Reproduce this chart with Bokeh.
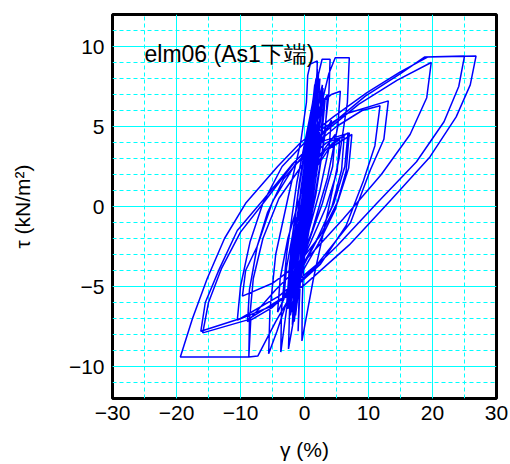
from bokeh.plotting import figure
from bokeh.models import Range1d, SingleIntervalTicker, ColumnDataSource
from bokeh.embed import file_html
from bokeh.resources import INLINE
from bokeh.core.properties import value

title_text = "elm06 (As1下端)"
x_label = "γ (%)"
y_label = "τ (kN/m²)"
x_limits = [-30, 30]
y_limits = [-12, 12]

# dense small cycles around the origin
gamma_a = [0, 0.8, 1.5, 1.2, 0.2, -0.8, -1.2,
           -0.9, 0.2, 1.2, 1.9, 1.5, 0.3, -0.9, -1.8,
           -1.3, -0.2, 1.0, 2.4, 2.0, 0.8, -0.5, -1.4,
           -1.2, 0.0, 1.2, 2.0, 1.6, 0.5, -0.6, -2.2,
           -1.7, -0.6, 0.9, 1.6, 1.2, 0.2, -1.0, -2.6,
           -2.0, -0.8, 0.8, 2.2, 1.9, 0.9, -0.5, -1.6,
           -1.3, -0.4, 0.9, 2.8, 2.3, 1.0, -0.5, -1.0,
           -0.8, 0.1, 1.3, 3.2, 2.6, 1.2, -0.6, -2.8,
           -2.3, -1.0, 0.6, 1.8]
tau_a = [0, 3.5, 6.0, 3.0, -1.5, -4.5, -5.5,
         -2.5, 1.5, 5.0, 7.2, 4.0, -0.5, -4.2, -6.5,
         -3.5, 0.5, 4.5, 8.0, 5.0, 0.5, -3.8, -6.8,
         -4.0, 0.0, 4.2, 7.0, 4.5, 0.5, -3.5, -6.0,
         -3.0, 1.0, 5.0, 7.6, 5.2, 1.5, -2.5, -5.3,
         -2.2, 1.5, 5.5, 8.4, 6.0, 2.0, -2.8, -7.2,
         -4.5, 0.0, 4.8, 7.6, 5.0, 1.0, -3.2, -7.8,
         -5.0, -0.5, 3.8, 6.6, 4.0, 0.2, -4.0, -6.2,
         -3.5, 0.8, 4.6, 8.0]

# medium and large loops
gamma_b = [1.6, 0.5, -1.0, -2.4,
           -2.2, -1.2, 0.8, 3.8, 7.4,
           6.9, 5.2, 2.5, -1.0, -5.0, -9.7,
           -9.2, -7.4, -5.8, -3.3, 0.5, 5.0, 9.0, 11.8,
           11.0, 9.2, 6.5, 2.5, -3.0, -9.0, -15.9,
           -15.0, -13.0, -10.0, -6.0, -1.5, 3.5, 9.5, 15.0, 18.8, 25.0,
           24.1, 21.8, 17.5, 11.3, 5.0, -1.0, -5.0, -8.4, -8.7, -19.4,
           -17.5, -15.2, -12.5, -9.2, -4.2, -0.6, 4.5, 9.7, 14.9, 19.3, 26.8,
           25.9, 23.7, 19.6, 13.5, 7.0, 0.0, -5.0, -10.5,
           -10.0, -8.5, -6.5, -3.5, 1.0, 6.5, 13.1,
           12.4, 10.3, 7.2, 2.0, -4.0, -10.0, -16.2,
           -15.5, -13.3, -10.5, -6.4, -2.0, 3.0, 8.5, 14.5, 19.8,
           19.1, 16.5, 12.0, 6.0, 0.5, -4.5, -8.9,
           -8.6, -7.4, -5.0, -1.5, 3.0, 7.0,
           6.5, 4.8, 2.2, -0.5, -2.5, -4.5, -7.3, -8.7,
           -8.6, -8.0, -6.5, -4.0, 0.0, 3.5, 6.2,
           5.8, 4.3, 1.8, -0.8, -2.8, -4.3, -5.6]
tau_b = [5.5, 1.0, -3.0, -6.0,
         -4.0, -1.0, 1.8, 3.6, 4.5,
         2.4, 0.3, -1.8, -3.6, -4.8, -5.6,
         -4.0, -2.5, -0.4, 1.7, 3.5, 5.0, 6.0, 6.3,
         3.8, 1.6, -1.2, -3.6, -5.6, -7.1, -7.9,
         -6.0, -3.9, -1.6, 0.44, 2.8, 4.9, 6.9, 8.3, 9.35, 9.4,
         7.5, 5.3, 2.8, 0.2, -2.5, -4.8, -6.3, -7.1, -9.4, -9.4,
         -7.0, -4.5, -2.0, 0.2, 2.5, 4.0, 5.6, 7.1, 8.4, 9.35, 9.4,
         7.6, 5.6, 3.1, 0.4, -2.4, -4.9, -6.2, -7.1,
         -5.0, -2.2, 0.2, 2.5, 4.4, 5.8, 6.6,
         4.2, 2.3, -1.0, -3.6, -5.6, -7.0, -7.8,
         -6.0, -3.9, -1.5, 0.44, 2.6, 4.6, 6.4, 7.9, 9.0,
         6.8, 4.5, 2.0, -0.8, -3.2, -5.2, -7.2,
         -5.2, -2.5, 0.3, 2.6, 4.1, 4.6,
         2.2, -0.2, -2.3, -4.2, -5.8, -7.2, -9.35, -9.4,
         -7.1, -4.5, -2.0, 0.5, 2.8, 4.0, 4.4,
         2.3, 0.0, -2.2, -4.2, -6.0, -7.8, -9.2]

# tall narrow loops reaching the strength limit
gamma_c = [-5.4, -4.5, -2.6, -0.6, 0.3, 0.5, 0.9, 2.0,
           1.9, 1.2, -0.2, -1.8, -3.0, -3.7,
           -3.6, -2.8, -1.2, 0.8, 2.2, 2.75, 4.0,
           3.8, 2.8, 1.0, -0.8, -2.5,
           -2.3, -1.4, 0.3, 2.3, 3.8, 4.8, 7.0,
           6.7, 5.4, 3.4, 1.4, -0.4,
           -0.35, 0.0, 0.8, 1.6, 2.0,
           1.8, 0.9, -0.3, -1.2, -1.6]
tau_c = [-6.5, -3.0, 0.5, 4.0, 6.5, 8.2, 8.9, 9.1,
         7.5, 4.5, 0.5, -3.5, -7.0, -9.1,
         -6.5, -3.0, 1.5, 5.5, 8.3, 9.2, 9.2,
         7.0, 3.5, -0.8, -5.0, -8.9,
         -6.0, -2.5, 2.0, 5.8, 8.3, 9.3, 9.3,
         6.5, 3.0, -0.8, -4.5, -8.4,
         -6.0, -2.0, 2.5, 6.5, 8.6,
         6.0, 2.0, -2.5, -6.0, -7.0]

# later small and medium cycles
gamma_d = [-1.3, -0.3, 1.0, 2.6, 2.3, 1.0, -0.6, -2.0,
           -1.6, -0.3, 1.5, 3.6, 3.2, 1.8, -0.2, -1.5,
           -1.1, 0.0, 2.0, 4.5, 6.8, 6.3, 4.6, 2.0, -1.2, -3.2,
           -2.8, -1.6, 0.6, 3.2, 5.5, 5.1, 3.4, 0.9, -1.8, -4.2,
           -3.8, -2.6, -0.4, 2.4, 4.8, 4.4, 2.8, 0.4, -1.2, -2.2,
           -1.8, -0.6, 0.9, 2.2, 1.9, 0.8, -0.4, -0.9, -0.5, 0.2]
tau_d = [-4.0, 0.0, 4.2, 7.2, 4.5, 0.0, -4.0, -5.6,
         -2.5, 1.8, 5.6, 7.0, 4.5, 0.8, -3.0, -4.8,
         -1.5, 1.0, 3.0, 4.0, 4.6, 2.5, 0.2, -2.0, -4.3, -5.6,
         -3.8, -1.2, 1.6, 3.5, 4.2, 2.2, 0.0, -2.3, -4.6, -6.6,
         -4.5, -2.0, 1.0, 3.2, 4.5, 2.5, 0.2, -2.5, -4.5, -6.8,
         -4.0, 0.0, 4.0, 6.4, 4.0, 0.2, -3.2, -4.5, -2.0, 0.2]

# final dense cycles
gamma_e = [0.9, 1.8, 2.9, 2.4, 1.1, -0.3, -1.9,
           -1.5, -0.5, 0.7, 1.4, 1.0, 0.0, -1.1, -2.4,
           -2.0, -1.1, 0.3, 1.7, 3.0, 2.6, 1.4, 0.0, -1.3, -1.9,
           -1.6, -0.7, 0.5, 1.3]
tau_e = [3.0, 5.8, 7.4, 5.0, 1.2, -2.5, -6.6,
         -3.8, -0.4, 3.6, 6.2, 3.8, 0.2, -3.2, -5.8,
         -3.0, -0.5, 2.8, 5.2, 6.8, 4.6, 1.4, -1.8, -4.6, -7.4,
         -4.8, -1.6, 2.2, 5.0]

gamma_f = [2.8, 4.2, 5.6, 5.2, 3.6, 1.2, -1.0, -2.6,
           -2.2, -1.0, 1.0, 3.0, 4.2, 3.8, 2.4, 0.2, -1.4, -2.0]
tau_f = [6.5, 7.0, 7.2, 5.0, 1.8, -1.5, -4.0, -6.4,
         -4.2, -1.2, 2.2, 4.4, 5.4, 3.6, 1.0, -2.2, -4.6, -5.4]

gamma = gamma_a + gamma_b + gamma_c + gamma_d + gamma_e + gamma_f
tau = tau_a + tau_b + tau_c + tau_d + tau_e + tau_f
n = min(len(gamma), len(tau))
src = ColumnDataSource(data=dict(x=gamma[:n], y=tau[:n]))

FONT = "Liberation Sans"

p = figure(width=510, height=464, output_backend="svg", toolbar_location=None,
           x_range=Range1d(*x_limits), y_range=Range1d(*y_limits),
           min_border_left=112, min_border_right=14, min_border_top=14,
           min_border_bottom=66)
p.background_fill_color = "white"
p.border_fill_color = "white"
p.outline_line_color = "black"
p.outline_line_width = 3
p.outline_line_alpha = 1.0

xt = SingleIntervalTicker(interval=10, num_minor_ticks=2)
yt = SingleIntervalTicker(interval=5, num_minor_ticks=5)
p.xaxis.ticker = xt
p.yaxis.ticker = yt
p.xgrid.ticker = xt
p.ygrid.ticker = yt

for g in (p.xgrid, p.ygrid):
    g.grid_line_color = "#00FFFF"
    g.grid_line_width = 1
    g.grid_line_alpha = 1.0
    g.minor_grid_line_color = "#00FFFF"
    g.minor_grid_line_width = 1
    g.minor_grid_line_alpha = 1.0
    g.minor_grid_line_dash = "4 3"

for ax in (p.xaxis, p.yaxis):
    ax.axis_line_color = None
    ax.major_tick_line_color = None
    ax.minor_tick_line_color = None
    ax.major_tick_out = 0
    ax.major_tick_in = 0
    ax.minor_tick_out = 0
    ax.minor_tick_in = 0
    ax.major_label_text_font = FONT
    ax.major_label_text_font_size = "21px"
    ax.major_label_text_color = "black"
    ax.axis_label_text_font = FONT
    ax.axis_label_text_font_size = "21px"
    ax.axis_label_text_font_style = "normal"
    ax.axis_label_text_color = "black"

p.xaxis.axis_label = x_label
p.yaxis.axis_label = y_label
p.xaxis.major_label_standoff = 7
p.yaxis.major_label_standoff = 8
p.xaxis.axis_label_standoff = 15
p.yaxis.axis_label_standoff = 32

p.line("x", "y", source=src, line_color="#0000FF", line_width=1.5)

p.text(x=[-25.0], y=[9.55], text=[title_text], text_font=value(FONT),
       text_font_size="23px", text_baseline="middle", text_align="left",
       text_color="black")

open("out.html", "w").write(file_html(p, INLINE))
